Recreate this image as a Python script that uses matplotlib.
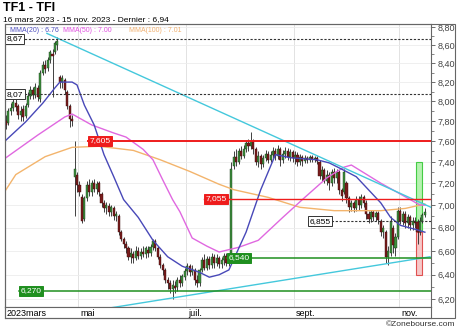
import numpy as np
import pandas as pd
import matplotlib
matplotlib.use("Agg")
import matplotlib.pyplot as plt
from matplotlib.patches import Rectangle
from matplotlib.ticker import FixedLocator, NullFormatter

plt.rcParams['font.family'] = ['Liberation Sans', 'DejaVu Sans']

# seances Euronext du 16 mars au 15 nov. 2023
dates = pd.bdate_range('2023-03-16', '2023-11-15')
dates = dates.drop(pd.to_datetime(['2023-04-07', '2023-04-10', '2023-05-01']))

# cours journaliers
opens = [7.80, 7.78, 7.90, 7.93, 7.98, 7.95, 7.86, 7.92, 7.85, 7.96,
         8.05, 8.12, 8.06, 8.14, 8.02, 8.30, 8.38, 8.35, 8.44, 8.50,
         8.52, 8.60, 8.25, 8.20, 8.22, 8.10, 7.95, 7.82, 7.26, 7.28,
         7.18, 7.07, 6.88, 7.06, 7.18, 7.12, 7.20, 7.15, 7.20, 7.10,
         7.02, 6.97, 6.99, 6.94, 6.97, 6.90, 6.90, 6.76, 6.70, 6.66,
         6.62, 6.55, 6.57, 6.54, 6.60, 6.56, 6.59, 6.57, 6.61, 6.58,
         6.63, 6.68, 6.62, 6.55, 6.48, 6.44, 6.36, 6.33, 6.28, 6.31,
         6.30, 6.36, 6.33, 6.38, 6.43, 6.47, 6.42, 6.44, 6.36, 6.33,
         6.44, 6.52, 6.46, 6.53, 6.48, 6.55, 6.50, 6.54, 6.49, 6.52,
         6.56, 6.50, 6.55, 7.36, 7.45, 7.40, 7.50, 7.46, 7.52, 7.58,
         7.55, 7.60, 7.52, 7.40, 7.46, 7.38, 7.44, 7.48, 7.42, 7.47,
         7.50, 7.46, 7.52, 7.42, 7.48, 7.50, 7.45, 7.49, 7.44, 7.47,
         7.40, 7.45, 7.41, 7.44, 7.42, 7.45, 7.43, 7.44, 7.40, 7.27,
         7.32, 7.22, 7.28, 7.20, 7.30, 7.25, 7.30, 7.14, 7.12, 7.20,
         7.06, 6.98, 7.02, 6.97, 7.05, 7.00, 7.07, 7.02, 6.92, 6.88,
         6.94, 6.89, 6.93, 6.86, 6.76, 6.76, 6.55, 6.58, 6.80, 6.62,
         6.72, 6.95, 6.86, 6.92, 6.84, 6.89, 6.82, 6.86, 6.85, 6.76,
         6.86, 6.91]
highs = [7.86, 7.93, 7.98, 8.03, 8.02, 7.97, 7.95, 7.96, 7.98, 8.10,
         8.16, 8.15, 8.19, 8.17, 8.33, 8.42, 8.44, 8.47, 8.55, 8.56,
         8.65, 8.69, 8.28, 8.27, 8.24, 8.12, 7.97, 7.86, 7.60, 7.30,
         7.22, 7.10, 7.08, 7.22, 7.24, 7.23, 7.24, 7.22, 7.22, 7.12,
         7.05, 7.03, 7.02, 7.00, 6.99, 6.95, 6.92, 6.78, 6.72, 6.68,
         6.64, 6.62, 6.60, 6.64, 6.63, 6.62, 6.64, 6.64, 6.64, 6.66,
         6.70, 6.70, 6.64, 6.57, 6.50, 6.46, 6.38, 6.36, 6.36, 6.35,
         6.38, 6.40, 6.41, 6.46, 6.50, 6.49, 6.48, 6.46, 6.40, 6.46,
         6.55, 6.57, 6.56, 6.56, 6.58, 6.57, 6.57, 6.56, 6.55, 6.58,
         6.58, 6.56, 7.40, 7.50, 7.52, 7.53, 7.55, 7.56, 7.61, 7.62,
         7.69, 7.62, 7.54, 7.50, 7.48, 7.47, 7.51, 7.50, 7.50, 7.54,
         7.53, 7.56, 7.54, 7.51, 7.54, 7.53, 7.52, 7.51, 7.50, 7.49,
         7.48, 7.47, 7.47, 7.46, 7.47, 7.47, 7.46, 7.46, 7.42, 7.36,
         7.34, 7.32, 7.30, 7.33, 7.34, 7.33, 7.32, 7.16, 7.33, 7.22,
         7.08, 7.05, 7.04, 7.08, 7.08, 7.10, 7.09, 7.05, 6.95, 6.96,
         6.96, 6.95, 6.95, 6.88, 6.82, 6.78, 6.64, 6.90, 6.82, 6.75,
         6.98, 6.98, 6.95, 6.95, 6.92, 6.91, 6.89, 6.89, 6.88, 6.89,
         6.93, 6.97]
lows = [7.72, 7.76, 7.86, 7.90, 7.90, 7.82, 7.80, 7.80, 7.83, 7.94,
        8.02, 8.02, 8.03, 8.00, 7.99, 8.27, 8.30, 8.32, 8.40, 8.04,
        8.50, 8.55, 8.14, 8.14, 8.08, 7.92, 7.74, 7.75, 6.90, 7.12,
        7.08, 6.84, 6.86, 7.04, 7.08, 7.08, 7.12, 7.10, 7.08, 6.98,
        6.94, 6.92, 6.90, 6.90, 6.87, 6.86, 6.74, 6.68, 6.62, 6.58,
        6.52, 6.50, 6.50, 6.52, 6.53, 6.53, 6.55, 6.54, 6.55, 6.56,
        6.61, 6.60, 6.53, 6.46, 6.40, 6.33, 6.28, 6.25, 6.20, 6.25,
        6.27, 6.30, 6.31, 6.36, 6.40, 6.39, 6.40, 6.32, 6.30, 6.31,
        6.42, 6.44, 6.44, 6.45, 6.46, 6.46, 6.47, 6.46, 6.46, 6.48,
        6.47, 6.47, 6.54, 7.33, 7.36, 7.38, 7.43, 7.44, 7.49, 7.50,
        7.52, 7.48, 7.37, 7.35, 7.33, 7.35, 7.41, 7.39, 7.40, 7.44,
        7.42, 7.43, 7.36, 7.39, 7.44, 7.42, 7.41, 7.40, 7.38, 7.36,
        7.37, 7.36, 7.39, 7.39, 7.40, 7.40, 7.40, 7.38, 7.24, 7.22,
        7.20, 7.18, 7.14, 7.17, 7.20, 7.20, 7.10, 7.04, 7.10, 7.02,
        6.94, 6.95, 6.94, 6.95, 6.96, 6.97, 6.98, 6.88, 6.84, 6.85,
        6.86, 6.86, 6.83, 6.73, 6.71, 6.50, 6.48, 6.56, 6.58, 6.56,
        6.70, 6.83, 6.82, 6.80, 6.80, 6.78, 6.78, 6.80, 6.66, 6.74,
        6.84, 6.89]
closes = [7.76, 7.90, 7.93, 7.99, 7.94, 7.86, 7.90, 7.84, 7.95, 8.05,
          8.12, 8.06, 8.15, 8.04, 8.30, 8.38, 8.34, 8.44, 8.52, 8.48,
          8.62, 8.64, 8.20, 8.24, 8.12, 7.95, 7.82, 7.80, 7.33, 7.18,
          7.12, 6.86, 7.06, 7.18, 7.12, 7.20, 7.15, 7.19, 7.12, 7.02,
          6.97, 7.00, 6.94, 6.98, 6.90, 6.92, 6.76, 6.70, 6.66, 6.62,
          6.55, 6.58, 6.54, 6.60, 6.56, 6.59, 6.57, 6.62, 6.58, 6.63,
          6.68, 6.62, 6.55, 6.48, 6.44, 6.36, 6.33, 6.28, 6.32, 6.29,
          6.36, 6.33, 6.39, 6.43, 6.47, 6.42, 6.45, 6.36, 6.33, 6.44,
          6.52, 6.46, 6.53, 6.48, 6.55, 6.50, 6.54, 6.49, 6.52, 6.56,
          6.50, 6.53, 7.33, 7.45, 7.40, 7.50, 7.46, 7.52, 7.58, 7.55,
          7.60, 7.52, 7.40, 7.46, 7.38, 7.44, 7.48, 7.42, 7.47, 7.50,
          7.46, 7.52, 7.42, 7.48, 7.50, 7.45, 7.49, 7.44, 7.47, 7.40,
          7.45, 7.41, 7.44, 7.42, 7.45, 7.43, 7.44, 7.41, 7.27, 7.32,
          7.22, 7.28, 7.20, 7.30, 7.25, 7.30, 7.14, 7.08, 7.30, 7.06,
          6.98, 7.02, 6.97, 7.05, 7.00, 7.07, 7.02, 6.92, 6.88, 6.94,
          6.89, 6.93, 6.87, 6.76, 6.80, 6.55, 6.60, 6.86, 6.65, 6.72,
          6.95, 6.86, 6.92, 6.84, 6.89, 6.82, 6.86, 6.84, 6.76, 6.86,
          6.91, 6.94]

# moyennes mobiles (points relevés : indice de séance, valeur)
mma20_idx = [0, 8, 15, 20, 22, 27, 29, 32, 36, 40, 44, 48, 54, 60, 66, 72, 79, 83, 87, 91,
             98, 104, 110, 116, 127, 132, 138, 143, 153, 157, 161, 168, 171]
mma20_val = [7.61, 7.79, 7.98, 8.14, 8.20, 8.20, 8.17, 7.96, 7.76, 7.47, 7.26, 7.05, 6.89,
             6.69, 6.55, 6.47, 6.42, 6.38, 6.40, 6.44, 6.76, 7.14, 7.47, 7.44, 7.42, 7.39,
             7.32, 7.26, 7.02, 6.89, 6.82, 6.78, 6.76]
mma50_idx = [0, 13, 24, 27, 35, 44, 49, 56, 60, 64, 68, 71, 76, 82, 87, 95, 103, 113, 122,
             131, 138, 141, 153, 161, 169, 171]
mma50_val = [7.44, 7.66, 7.84, 7.87, 7.76, 7.68, 7.64, 7.52, 7.42, 7.23, 7.05, 6.94, 6.71,
             6.64, 6.59, 6.63, 6.69, 6.89, 7.07, 7.25, 7.35, 7.37, 7.20, 7.10, 7.00, 7.00]
mma100_idx = [0, 4, 16, 27, 38, 52, 63, 75, 87, 93, 107, 120, 134, 153, 163, 171]
mma100_val = [7.14, 7.28, 7.45, 7.54, 7.55, 7.51, 7.42, 7.31, 7.19, 7.14, 7.07, 6.98, 6.95,
              6.95, 6.97, 7.01]

# droites de tendance
trend_down_idx = [16.7, 173.5]
trend_down_val = [8.73, 6.98]
trend_up_idx = [38.4, 173.1]
trend_up_val = [6.12, 6.55]

# niveaux horizontaux
levels = [8.67, 8.07, 7.605, 7.055, 6.855, 6.54, 6.27]
level_labels = ['8,67', '8,07', '7,605', '7,055', '6,855', '6,540', '6,270']
level_kinds = ['dash', 'dash', 'red', 'red', 'dash', 'green', 'green']
level_start = [-0.3, -0.3, 33.4, 80.7, 123.2, 90.1, 5.2]

# zones à droite
zone_green = [6.76, 7.40]
zone_red = [6.40, 6.76]

yticks = [6.2, 6.4, 6.6, 6.8, 7.0, 7.2, 7.4, 7.6, 7.8, 8.0, 8.2, 8.4, 8.6, 8.8]

opens = np.array(opens); highs = np.array(highs)
lows = np.array(lows); closes = np.array(closes)
idx = np.arange(len(closes))

fig = plt.figure(figsize=(4.6, 3.31), dpi=100)
ax = fig.add_axes([5 / 460, 24 / 331, 426 / 460, 283 / 331])
ax.set_yscale('log')
ax.set_ylim(6.14, 8.836)
ax.set_xlim(-0.4, 173.5)

# mois
month_first = [i for i in range(1, len(dates)) if dates[i].month != dates[i - 1].month]
month_lab = {5: 'mai', 7: 'juil.', 9: 'sept.', 11: 'nov.'}
for i in month_first:
    if dates[i].month in month_lab:
        ax.axvline(i - 0.5, color='#e2e2e2', lw=0.7, zorder=0)

for t in yticks:
    ax.axhline(t, color='#ececec', lw=0.6, zorder=0)

# zones
ax.add_patch(Rectangle((167.4, zone_green[0]), 2.4, zone_green[1] - zone_green[0],
                       facecolor='#b6f2b0', edgecolor='#44cc44', lw=0.8, zorder=1))
ax.add_patch(Rectangle((167.4, zone_red[0]), 2.4, zone_red[1] - zone_red[0],
                       facecolor='#f6c8c8', edgecolor='#e05050', lw=0.8, zorder=1))

# bougies
up = closes >= opens
ax.vlines(idx, lows, highs, color='#222222', lw=0.6, zorder=3)
ax.bar(idx[up], (closes - opens)[up], bottom=opens[up], width=0.85,
       color='#3c8f3c', edgecolor='#1c3c1c', lw=0.3, zorder=3)
ax.bar(idx[~up], (opens - closes)[~up], bottom=closes[~up], width=0.85,
       color='#7a1c1c', edgecolor='#3a0c0c', lw=0.3, zorder=3)

# moyennes
ax.plot(mma100_idx, mma100_val, color='#f3b46c', lw=1.0, zorder=4)
ax.plot(mma50_idx, mma50_val, color='#e068e0', lw=1.0, zorder=4)
ax.plot(mma20_idx, mma20_val, color='#4848b8', lw=1.0, zorder=4)

# tendances
ax.plot(trend_down_idx, trend_down_val, color='#44c8dc', lw=1.0, zorder=4)
ax.plot(trend_up_idx, trend_up_val, color='#44c8dc', lw=1.0, zorder=4)

# niveaux
for v, lab, kind, x0 in zip(levels, level_labels, level_kinds, level_start):
    if kind == 'dash':
        ax.plot([x0, 173.5], [v, v], color='#333333', lw=0.8, ls=(0, (2, 1.5)), zorder=5)
        fc, ec, tc = 'white', '#333333', 'black'
    elif kind == 'red':
        ax.plot([x0, 173.5], [v, v], color='#ee1c1c', lw=1.4 if v > 7.5 else 1.0, zorder=5)
        fc, ec, tc = '#ee1c1c', '#ee1c1c', 'white'
    else:
        ax.plot([x0, 173.5], [v, v], color='#1f8f1f', lw=1.1, zorder=5)
        fc, ec, tc = '#1f8f1f', '#1f8f1f', 'white'
    ax.text(x0 + 0.6, v, lab, ha='left', va='center', fontsize=6, color=tc, zorder=7,
            bbox=dict(boxstyle='square,pad=0.18', fc=fc, ec=ec, lw=0.7))

# axe de droite
ax.yaxis.tick_right()
ax.yaxis.set_major_locator(FixedLocator(yticks))
ax.yaxis.set_minor_locator(FixedLocator([t + 0.1 for t in yticks[:-1]] + [6.1]))
ax.yaxis.set_minor_formatter(NullFormatter())
ax.set_yticklabels([('%.2f' % t).replace('.', ',') for t in yticks])
ax.tick_params(axis='y', which='major', length=3, width=0.6, color='#555555',
               labelsize=6.5, labelcolor='#444444', pad=1.5)
ax.tick_params(axis='y', which='minor', length=2, width=0.5, color='#555555')
ax.set_xticks([])
for s in ax.spines.values():
    s.set_color('#666666')
    s.set_linewidth(0.8)

# bande des mois
bx = fig.add_axes([5 / 460, 13 / 331, 426 / 460, 11 / 331])
bx.set_xlim(-0.4, 173.5)
bx.set_ylim(0, 1)
bx.set_xticks([])
bx.set_yticks([])
for s in bx.spines.values():
    s.set_color('#666666')
    s.set_linewidth(0.8)
bx.text(0.2, 0.45, '2023mars', fontsize=6.5, va='center', ha='left')
for i in month_first:
    if dates[i].month in month_lab:
        bx.text(i + 0.3, 0.45, month_lab[dates[i].month], fontsize=6.5, va='center', ha='left')

# cadre extérieur
fig.patches.append(Rectangle((5 / 460, 13 / 331), 450 / 460, 294 / 331, transform=fig.transFigure,
                             fill=False, edgecolor='#666666', lw=0.8))

# textes
fig.text(3 / 460, 1 - 8 / 331, 'TF1 - TFI', fontsize=9, fontweight='bold', va='center')
fig.text(3 / 460, 1 - 20 / 331, '16 mars 2023 - 15 nov. 2023 - Dernier : 6,94',
         fontsize=6, va='center')
fig.text(10 / 460, 1 - 31 / 331, 'MMA(20) : 6.76', fontsize=5, color='#5050c0', va='center')
fig.text(63 / 460, 1 - 31 / 331, 'MMA(50) : 7.00', fontsize=5, color='#e050e0', va='center')
fig.text(129 / 460, 1 - 31 / 331, 'MMA(100) : 7.01', fontsize=5, color='#f0b070', va='center')
fig.text(455 / 460, 1 - 324 / 331, '\u00a9Zonebourse.com', fontsize=6, color='#333333',
         va='center', ha='right')

fig.savefig('out.png', dpi=100)
